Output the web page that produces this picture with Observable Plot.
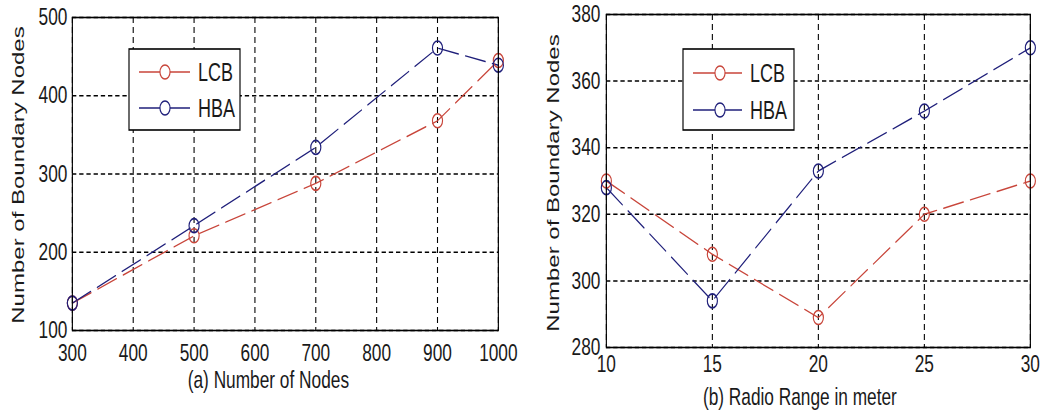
<!DOCTYPE html>
<html><head><meta charset="utf-8">
<script src="https://cdn.jsdelivr.net/npm/d3@7"></script>
<script src="https://cdn.jsdelivr.net/npm/@observablehq/plot@0.6"></script>
<style>
html,body{margin:0;padding:0;background:#fff;}
#wrap{position:relative;width:1047px;height:417px;overflow:hidden;background:#fff;}
#wrap svg{position:absolute;top:0;}
</style></head><body><div id="wrap"></div>
<script>
const seriesNames = ["LCB", "HBA"];
const seriesColors = ["#c8453a", "#1f1f7a"];

const nodes = [300, 500, 700, 900, 1000];
const lcbNodes = [135, 221, 288, 368, 445];
const hbaNodes = [135, 234, 334, 461, 439];
const nodeTicks = [300, 400, 500, 600, 700, 800, 900, 1000];
const boundaryTicksA = [100, 200, 300, 400, 500];

const ranges = [10, 15, 20, 25, 30];
const lcbRange = [330, 308, 289, 320, 330];
const hbaRange = [328, 294, 333, 351, 370];
const rangeTicks = [10, 15, 20, 25, 30];
const boundaryTicksB = [280, 300, 320, 340, 360, 380];

const yLabel = "Number of Boundary Nodes";
const captionA = "(a) Number of Nodes";
const captionB = "(b) Radio Range in meter";

const SX = 0.72; // horizontal squeeze of the original picture
const FONT = "'Liberation Sans', Arial, Helvetica, sans-serif";
const NARROW = "'Liberation Sans Narrow', 'Arial Narrow', 'Liberation Sans', Arial, sans-serif";

function makePanel(o) {
  const vw = o.width / SX;
  const data = [];
  o.series.forEach((vals, si) => o.xs.forEach((x, i) => data.push({series: seriesNames[si], x, y: vals[i]})));
  const gridStyle = {stroke: "#000", strokeOpacity: 1, strokeWidth: 1.5, strokeDasharray: "6,4"};
  const svg = Plot.plot({
    width: vw, height: 417,
    marginLeft: o.ml / SX, marginRight: o.mr / SX, marginTop: o.mt, marginBottom: o.mb,
    style: {fontFamily: FONT, fontSize: "22px", color: "#1a1a1a", background: "white", overflow: "visible"},
    x: {domain: o.xDomain, label: null},
    y: {domain: o.yDomain, label: null},
    color: {domain: seriesNames, range: seriesColors},
    marks: [
      Plot.gridX(o.xTicks, gridStyle),
      Plot.gridY(o.yTicks, gridStyle),
      Plot.axisX(o.xTicks, {tickSize: 0, tickPadding: o.xPad, fontSize: 24, fontFamily: NARROW, label: null, tickFormat: d => String(d)}),
      Plot.axisY(o.yTicks, {tickSize: 0, tickPadding: o.yPad / SX, fontSize: 24, fontFamily: NARROW, label: null, tickFormat: d => String(d)}),
      Plot.line(data, {x: "x", y: "y", z: "series", stroke: "series", strokeWidth: 1.4, strokeDasharray: "28,10"}),
      Plot.dot(data, {x: "x", y: "y", stroke: "series", r: 7, strokeWidth: 1.6, fill: "none"}),
      Plot.frame({stroke: "#000", strokeWidth: 1.6}),
      Plot.text([o.caption], {text: d => d, frameAnchor: "bottom", textAnchor: "middle", dx: o.capDx / SX, dy: o.capDy, fontSize: 24, fontFamily: NARROW, fill: "#1a1a1a"}),
      Plot.text([yLabel], {text: d => d, frameAnchor: "left", textAnchor: "middle", rotate: -90, dx: o.ylDx / SX, dy: o.ylDy, fontSize: 24, fill: "#1a1a1a"})
    ]
  });
  // legend box
  const L = o.legend;
  const g = d3.select(svg).append("g").attr("font-family", NARROW);
  g.append("rect").attr("x", L.x0 / SX).attr("y", L.y0)
    .attr("width", (L.x1 - L.x0) / SX).attr("height", L.y1 - L.y0)
    .attr("fill", "white").attr("stroke", "#000").attr("stroke-width", 1.6);
  seriesNames.forEach((name, i) => {
    const yy = L.rows[i];
    g.append("line").attr("x1", L.lx0 / SX).attr("x2", L.lx1 / SX).attr("y1", yy).attr("y2", yy)
      .attr("stroke", seriesColors[i]).attr("stroke-width", 1.4);
    g.append("circle").attr("cx", L.cx / SX).attr("cy", yy).attr("r", 7)
      .attr("fill", "white").attr("stroke", seriesColors[i]).attr("stroke-width", 1.6);
    g.append("text").attr("x", L.tx / SX).attr("y", yy).attr("dy", "0.36em")
      .attr("text-anchor", "start")
      .attr("font-size", 25).attr("fill", "#1a1a1a").text(name);
  });
  svg.setAttribute("viewBox", `0 0 ${vw} 417`);
  svg.setAttribute("preserveAspectRatio", "none");
  svg.setAttribute("width", o.width);
  svg.setAttribute("height", 417);
  svg.style.width = o.width + "px";
  svg.style.height = "417px";
  svg.style.maxWidth = "none";
  svg.style.left = o.left + "px";
  document.getElementById("wrap").appendChild(svg);
}

makePanel({
  left: 0, width: 520, ml: 72, mr: 22, mt: 17, mb: 87,
  xs: nodes, series: [lcbNodes, hbaNodes],
  xDomain: [300, 1000], yDomain: [100, 500],
  xTicks: nodeTicks, yTicks: boundaryTicksA,
  xPad: 13, yPad: 5,
  caption: captionA, capDx: -17, capDy: 57,
  ylDx: -54, ylDy: 1,
  legend: {x0: 129, x1: 240, y0: 49, y1: 130, lx0: 139, lx1: 190, cx: 165, tx: 198, rows: [72, 108]}
});

makePanel({
  left: 520, width: 527, ml: 86, mr: 17, mt: 14, mb: 70,
  xs: ranges, series: [lcbRange, hbaRange],
  xDomain: [10, 30], yDomain: [280, 380],
  xTicks: rangeTicks, yTicks: boundaryTicksB,
  xPad: 7, yPad: 6,
  caption: captionB, capDx: -18.5, capDy: 57,
  ylDx: -52.5, ylDy: 2,
  legend: {x0: 163, x1: 274, y0: 49, y1: 130, lx0: 173, lx1: 222, cx: 200, tx: 230, rows: [73, 110]}
});
</script>
</body></html>
